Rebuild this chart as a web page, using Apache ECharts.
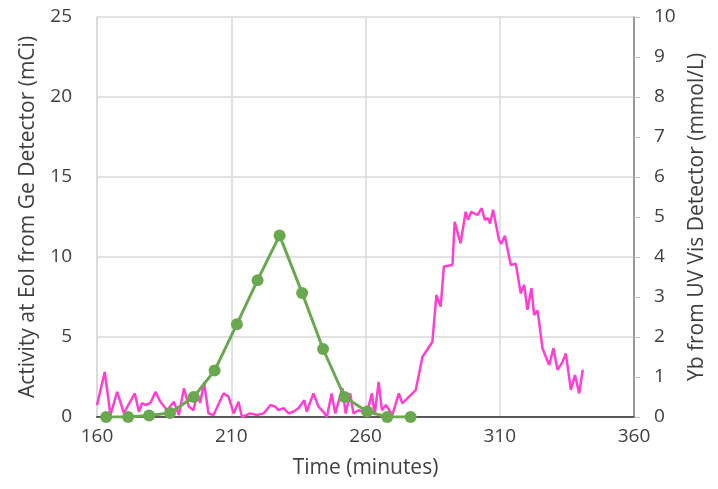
<!DOCTYPE html>
<html>
<head>
<meta charset="utf-8">
<script src="https://cdn.jsdelivr.net/npm/echarts@6/dist/echarts.min.js"></script>
<style>
  html, body { margin: 0; padding: 0; background: #fff; }
  #main { width: 718px; height: 489px; }
</style>
</head>
<body>
<div id="main"></div>
<script>
// Ge detector activity (mCi), left axis
var geTime = [163.4, 171.6, 179.4, 187.2, 196.0, 203.8, 212.1, 219.8, 228.0, 236.4, 244.2, 252.2, 260.6, 268.1, 276.8];
var geActivity = [0, 0, 0.1, 0.25, 1.25, 2.9, 5.8, 8.55, 11.35, 7.75, 4.25, 1.25, 0.35, 0, 0];

// UV Vis Yb concentration (mmol/L), right axis
var uvTime = [160.0, 162.9, 165.0, 167.5, 170.0, 174.1, 175.6, 176.8, 178.0, 179.9, 181.8, 183.6, 186.1, 188.6, 190.5,
  192.4, 194.2, 195.9, 197.4, 198.4, 199.9, 201.5, 203.4, 207.1, 209.0, 210.9, 212.7, 214.0, 217.1, 219.6,
  222.1, 224.6, 226.4, 227.6, 229.5, 231.4, 233.1, 235.0, 237.2, 238.1, 240.6, 242.5, 244.3, 245.6, 247.4,
  248.7, 251.4, 252.6, 254.3, 255.5, 257.4, 260.5, 262.4, 263.4, 264.9, 266.1, 267.6, 270.0, 272.4, 273.7,
  278.7, 281.2, 284.9, 286.4, 288.0, 289.2, 292.4, 293.2, 295.4, 297.3, 298.2, 299.4, 301.7, 303.3, 304.4,
  305.6, 306.4, 307.5, 309.7, 310.6, 311.9, 314.1, 316.0, 317.8, 319.1, 320.3, 321.8, 322.8, 324.1, 325.9,
  328.4, 330.0, 331.5, 333.4, 334.6, 336.5, 338.0, 339.6, 340.9];
var uvYb = [0.3, 1.13, 0.05, 0.63, 0.1, 0.59, 0.13, 0.35, 0.3, 0.35, 0.63, 0.38, 0.17, 0.38, 0.05,
  0.72, 0.26, 0.17, 0.59, 0.35, 0.86, 0.09, 0.05, 0.59, 0.51, 0.09, 0.38, 0.0, 0.09, 0.05,
  0.09, 0.3, 0.26, 0.17, 0.22, 0.09, 0.13, 0.22, 0.42, 0.13, 0.59, 0.26, 0.13, 0.0, 0.59,
  0.09, 0.72, 0.09, 0.59, 0.09, 0.17, 0.09, 0.59, 0.05, 0.88, 0.17, 0.3, 0.05, 0.59, 0.34,
  0.67, 1.5, 1.88, 3.05, 2.76, 3.76, 3.8, 4.88, 4.34, 5.13, 4.93, 5.13, 5.05, 5.22, 4.93,
  4.97, 4.84, 5.18, 4.43, 4.33, 4.53, 3.8, 3.83, 3.09, 3.3, 2.68, 3.22, 2.55, 2.66, 1.72,
  1.3, 1.72, 1.18, 1.38, 1.59, 0.68, 1.05, 0.59, 1.18];

function pairs(xs, ys) {
  return xs.map(function (x, i) { return [x, ys[i]]; });
}

var txt = '#404040';
var font = 'Open Sans';
var myChart = echarts.init(document.getElementById('main'));
var option = {
  animation: false,
  grid: { left: 97, right: 84, top: 17, bottom: 72 },
  textStyle: { fontFamily: font },
  xAxis: [{
    type: 'value',
    min: 160, max: 360, interval: 50,
    name: 'Time (minutes)',
    nameLocation: 'middle',
    nameGap: 41,
    nameTextStyle: { color: txt, fontSize: 21, fontFamily: font },
    axisLine: { show: true, onZero: false, lineStyle: { color: '#bfbfbf', width: 1.5 } },
    axisTick: { show: false },
    axisLabel: { color: txt, fontSize: 19, margin: 10, fontFamily: font },
    splitLine: { show: true, lineStyle: { color: '#d9d9d9', width: 1.5 } }
  }, {
    type: 'value',
    position: 'top',
    min: 160, max: 360,
    axisLine: { show: true, lineStyle: { color: '#595959', width: 2 } },
    axisTick: { show: false },
    axisLabel: { show: false },
    splitLine: { show: false }
  }],
  yAxis: [{
    type: 'value',
    min: 0, max: 25, interval: 5,
    name: 'Activity at EoI from Ge Detector (mCi)',
    nameLocation: 'middle',
    nameGap: 58,
    nameTextStyle: { color: txt, fontSize: 21, fontFamily: font },
    axisLine: { show: true, lineStyle: { color: '#d9d9d9', width: 1.5 } },
    axisTick: { show: false },
    axisLabel: { color: txt, fontSize: 19, margin: 25, fontFamily: font },
    splitLine: { show: true, lineStyle: { color: '#d9d9d9', width: 1.5 } }
  }, {
    type: 'value',
    position: 'right',
    min: 0, max: 10, interval: 1,
    name: 'Yb from UV Vis Detector (mmol/L)',
    nameLocation: 'middle',
    nameGap: 45,
    nameRotate: 90,
    nameTextStyle: { color: txt, fontSize: 21, fontFamily: font },
    axisLine: { show: true, lineStyle: { color: '#7f7f7f', width: 1.5 } },
    axisTick: { show: true, length: 6, lineStyle: { color: '#bfbfbf' } },
    axisLabel: { color: txt, fontSize: 19, margin: 20, fontFamily: font },
    splitLine: { show: false }
  }],
  series: [{
    name: 'Yb',
    type: 'line',
    yAxisIndex: 1,
    data: pairs(uvTime, uvYb),
    symbol: 'none',
    lineStyle: { color: '#ff3fd2', width: 2.5 },
    z: 2
  }, {
    name: 'Activity',
    type: 'line',
    yAxisIndex: 0,
    data: pairs(geTime, geActivity),
    symbol: 'circle',
    symbolSize: 12,
    itemStyle: { color: '#6aa84f' },
    lineStyle: { color: '#6aa84f', width: 3 },
    z: 3
  }]
};
myChart.setOption(option);
</script>
</body>
</html>
